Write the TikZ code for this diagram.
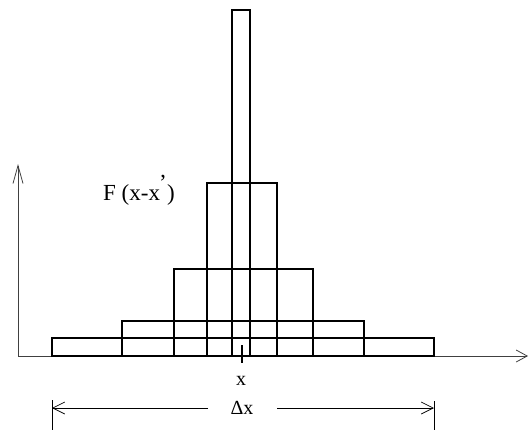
\documentclass[tikz,border=0pt]{standalone}
\usepackage{fontspec}
\setmainfont{Liberation Serif}
\usetikzlibrary{arrows.meta}
\begin{document}
\begin{tikzpicture}[x=1pt,y=-1pt,
  bar/.style={draw=black,line width=1.4pt},
  axis/.style={draw=black!75,line width=0.8pt},
  dim/.style={draw=black,line width=0.7pt},
  lbl/.style={inner sep=0pt,font=\fontsize{20}{22}\selectfont}]
\useasboundingbox (0,0) rectangle (529,432);
% axes
\coordinate (o) at (18,356);
\coordinate (ytop) at (18,164);
\coordinate (xend) at (528,356);
\draw[axis,-{Straight Barb[length=18pt,width=10pt]}] (o) -- (ytop);
\draw[axis,-{Straight Barb[length=11pt,width=12pt]}] (o) -- (xend);
% rectangles
\draw[bar] (52,338) rectangle (434,356);
\draw[bar] (122,321) rectangle (364,356);
\draw[bar] (174,269) rectangle (313,356);
\draw[bar] (207,183) rectangle (277,356);
\draw[bar] (232,10) rectangle (250,356);
% tick
\coordinate (t1) at (242,345);
\coordinate (t2) at (242,363);
\draw[black,line width=1.2pt] (t1) -- (t2);
% labels
\node[lbl] (xl) at (241,381) {x};
\node[lbl,anchor=west,font=\fontsize{23}{25}\selectfont] (F) at (103,190) {F (x-x\raisebox{0.95ex}{\kern-1pt'}\kern0.5pt)};
\node[lbl] (dx) at (242,408) {Δx};
% dimension
\coordinate (bl1) at (52,400); \coordinate (bl2) at (52,430);
\coordinate (br1) at (434,401); \coordinate (br2) at (434,430);
\coordinate (al) at (52,408); \coordinate (ar) at (434,408);
\coordinate (il) at (208,408); \coordinate (ir) at (277,408);
\draw[dim] (bl1) -- (bl2);
\draw[dim] (br1) -- (br2);
\draw[dim,-{Straight Barb[length=12pt,width=12pt]}] (il) -- (al);
\draw[dim,-{Straight Barb[length=12pt,width=12pt]}] (ir) -- (ar);
\end{tikzpicture}
\end{document}
